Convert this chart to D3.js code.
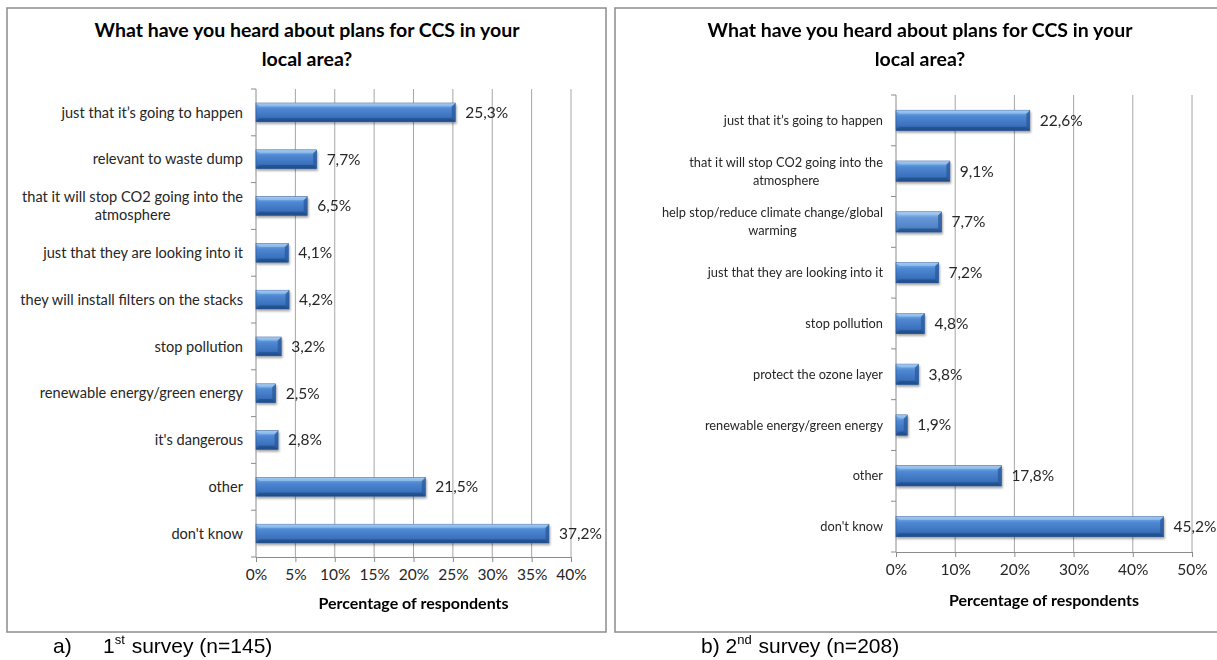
<!DOCTYPE html>
<html>
<head>
<meta charset="utf-8">
<script src="https://cdn.jsdelivr.net/npm/d3@7"></script>
<style>
  html, body { margin: 0; padding: 0; background: #fff; }
  svg { display: block; }
  text { font-family: Lato, "Open Sans", sans-serif; fill: #262626; }
</style>
</head>
<body>
<svg id="chart" width="1217" height="660"></svg>
<script>
// ---------- DATA ----------
const titleLines = ["What have you heard about plans for CCS in your", "local area?"];
const axisTitle = "Percentage of respondents";

const survey1Categories = [
  "just that it\u2019s going to happen",
  "relevant to waste dump",
  "that it will stop CO2 going into the atmosphere",
  "just that they are looking into it",
  "they will install filters on the stacks",
  "stop pollution",
  "renewable energy/green energy",
  "it's dangerous",
  "other",
  "don't know"
];
const survey1Values = [25.3, 7.7, 6.5, 4.1, 4.2, 3.2, 2.5, 2.8, 21.5, 37.2];
const survey1Ticks = [0, 5, 10, 15, 20, 25, 30, 35, 40];

const survey2Categories = [
  "just that it\u2019s going to happen",
  "that it will stop CO2 going into the atmosphere",
  "help stop/reduce climate change/global warming",
  "just that they are looking into it",
  "stop pollution",
  "protect the ozone layer",
  "renewable energy/green energy",
  "other",
  "don't know"
];
const survey2Values = [22.6, 9.1, 7.7, 7.2, 4.8, 3.8, 1.9, 17.8, 45.2];
const survey2Ticks = [0, 10, 20, 30, 40, 50];

const captionA = { prefix: "a)", num: "1", sup: "st", rest: " survey (n=145)" };
const captionB = { prefix: "b) ", num: "2", sup: "nd", rest: " survey (n=208)" };

// ---------- DRAW ----------
const svg = d3.select("#chart");
const defs = svg.append("defs");

function makeGrad(id, stops) {
  const g = defs.append("linearGradient").attr("id", id)
    .attr("x1", 0).attr("y1", 0).attr("x2", 0).attr("y2", 1);
  stops.forEach(s => g.append("stop").attr("offset", s[0]).attr("stop-color", s[1]));
}
makeGrad("barGrad", [[0, "#a3c8f1"], [0.14, "#6ca2e1"], [0.3, "#4f88d2"], [0.75, "#3b71bd"], [1, "#24528f"]]);
makeGrad("barGradLight", [[0, "#abcdf1"], [0.14, "#82b0e5"], [0.3, "#6797d8"], [0.75, "#5384c8"], [1, "#36649f"]]);
const shadow = defs.append("filter").attr("id", "shadow").attr("x", "-10%").attr("y", "-30%").attr("width", "130%").attr("height", "180%");
shadow.append("feGaussianBlur").attr("in", "SourceAlpha").attr("stdDeviation", 1.2);
shadow.append("feOffset").attr("dx", 1).attr("dy", 1.5).attr("result", "ob");
shadow.append("feComponentTransfer").append("feFuncA").attr("type", "linear").attr("slope", 0.35);
const fm = shadow.append("feMerge");
fm.append("feMergeNode");
fm.append("feMergeNode").attr("in", "SourceGraphic");

function wrapLabel(textSel, str, maxW) {
  const words = str.split(" ");
  const lines = [];
  let line = [];
  const tmp = textSel.append("tspan");
  words.forEach(w => {
    const trial = line.concat([w]).join(" ");
    tmp.text(trial);
    if (tmp.node().getComputedTextLength() > maxW && line.length) {
      lines.push(line.join(" "));
      line = [w];
    } else line.push(w);
  });
  lines.push(line.join(" "));
  tmp.remove();
  return lines;
}

function drawPanel(cfg) {
  const g = svg.append("g");
  // frame
  g.append("rect").attr("x", cfg.frame[0]).attr("y", cfg.frame[1])
    .attr("width", cfg.frame[2]).attr("height", cfg.frame[3])
    .attr("fill", "none").attr("stroke", "#8c8c8c").attr("stroke-width", 1.5);

  // title
  const tt = g.append("text").attr("text-anchor", "middle")
    .style("font-weight", "bold").style("font-size", cfg.titleSize + "px").style("fill", "#000");
  titleLines.forEach((l, i) => tt.append("tspan").attr("x", cfg.titleX).attr("y", cfg.titleY + i * 29).text(l));

  const x = d3.scaleLinear().domain([cfg.ticks[0], cfg.ticks[cfg.ticks.length - 1]]).range([cfg.x0, cfg.x1]);
  const y = d3.scaleBand().domain(cfg.categories).range([cfg.y0, cfg.y1])
    .paddingInner(0.6).paddingOuter(0.3);

  // gridlines
  g.append("g").selectAll("line").data(cfg.ticks.slice(1)).join("line")
    .attr("x1", d => x(d)).attr("x2", d => x(d))
    .attr("y1", cfg.y0).attr("y2", cfg.y1)
    .attr("stroke", "#a6a6a6").attr("stroke-width", 1);

  // x axis
  const xAxis = d3.axisBottom(x).tickValues(cfg.ticks).tickSize(5).tickPadding(7)
    .tickFormat(d => d + "%");
  const xg = g.append("g").attr("transform", `translate(0,${cfg.y1})`).call(xAxis);
  xg.select(".domain").attr("stroke", "#8c8c8c");
  xg.selectAll(".tick line").attr("stroke", "#8c8c8c");
  xg.selectAll(".tick text").style("font-family", "Lato, sans-serif")
    .style("font-size", cfg.tickSize + "px").style("fill", "#262626");

  // y axis line and category separators
  g.append("line").attr("x1", cfg.x0).attr("x2", cfg.x0).attr("y1", cfg.y0).attr("y2", cfg.y1)
    .attr("stroke", "#8c8c8c");
  const step = y.step();
  const seps = d3.range(cfg.categories.length + 1).map(i => cfg.y0 + i * step);
  g.append("g").selectAll("line").data(seps).join("line")
    .attr("x1", cfg.x0 - 5).attr("x2", cfg.x0).attr("y1", d => d).attr("y2", d => d)
    .attr("stroke", "#8c8c8c");

  // category labels
  cfg.categories.forEach(c => {
    const t = g.append("text").style("font-size", cfg.catSize + "px").style("fill", "#262626");
    const lines = wrapLabel(t, c, cfg.wrapW);
    const cy = y(c) + y.bandwidth() / 2;
    const lh = 18;
    if (lines.length === 1) {
      t.attr("text-anchor", "end")
        .append("tspan").attr("x", cfg.labelRight).attr("y", cy).attr("dy", "0.35em").text(lines[0]);
    } else {
      const widths = lines.map(l => { const s = t.append("tspan").text(l); const w = s.node().getComputedTextLength(); s.remove(); return w; });
      const maxW = d3.max(widths);
      const cx = cfg.labelRight - maxW / 2;
      t.attr("text-anchor", "middle");
      lines.forEach((l, i) => t.append("tspan").attr("x", cx)
        .attr("y", cy + (i - (lines.length - 1) / 2) * lh).attr("dy", "0.35em").text(l));
    }
  });

  // bars
  const bars = g.append("g").attr("filter", "url(#shadow)");
  const data = cfg.categories.map((c, i) => ({ c, v: cfg.values[i] }));
  const bg = bars.selectAll("g").data(data).join("g");
  bg.append("rect")
    .attr("x", x(0)).attr("y", d => y(d.c))
    .attr("width", d => x(d.v) - x(0)).attr("height", y.bandwidth())
    .attr("fill", d => cfg.lighter.includes(d.c) ? "url(#barGradLight)" : "url(#barGrad)")
    .attr("stroke", "#2b5794").attr("stroke-width", 0.6);
  const bev = 3.5;
  bg.append("path")
    .attr("d", d => {
      const xr = x(d.v), yt = y(d.c), yb = yt + y.bandwidth();
      return `M${xr},${yt} L${xr - bev},${yt + bev} L${xr - bev},${yb - bev} L${xr},${yb} Z`;
    }).attr("fill", "#2a5a9b").attr("opacity", 0.75);
  bg.append("path")
    .attr("d", d => {
      const xl = x(0), xr = x(d.v), yt = y(d.c);
      return `M${xl},${yt} L${xr},${yt} L${xr - bev},${yt + bev} L${xl + bev},${yt + bev} Z`;
    }).attr("fill", "#a8cdf3").attr("opacity", 0.55);
  bg.append("path")
    .attr("d", d => {
      const xl = x(0), xr = x(d.v), yb = y(d.c) + y.bandwidth();
      return `M${xl},${yb} L${xr},${yb} L${xr - bev},${yb - bev} L${xl + bev},${yb - bev} Z`;
    }).attr("fill", "#1d4a86").attr("opacity", 0.6);

  // value labels
  g.append("g").selectAll("text").data(data).join("text")
    .attr("x", d => x(d.v) + 10).attr("y", d => y(d.c) + y.bandwidth() / 2).attr("dy", "0.35em")
    .style("font-size", cfg.valSize + "px").style("fill", "#262626")
    .text(d => d3.format(".1f")(d.v).replace(".", ",") + "%");

  // axis title
  g.append("text").attr("x", (cfg.x0 + cfg.x1) / 2).attr("y", cfg.axisTitleY)
    .attr("text-anchor", "middle").style("font-weight", "bold")
    .style("font-size", cfg.axisTitleSize + "px").style("fill", "#000").text(axisTitle);

  // caption
  const cap = g.append("text").attr("y", 653)
    .style("font-family", "'Liberation Sans', Arial, sans-serif").style("font-size", "21px").style("fill", "#000");
  cap.append("tspan").attr("x", cfg.capX).text(cfg.caption.prefix);
  const num = cap.append("tspan").text(cfg.caption.num);
  if (cfg.numX != null) num.attr("x", cfg.numX);
  cap.append("tspan").attr("dy", -9).style("font-size", "13px").text(cfg.caption.sup);
  cap.append("tspan").attr("dy", 9).attr("dx", 1).text(cfg.caption.rest);
}

drawPanel({
  frame: [7, 8, 599, 624],
  titleX: 307, titleY: 37, titleSize: 19.5,
  categories: survey1Categories, values: survey1Values, ticks: survey1Ticks, lighter: [],
  x0: 256, x1: 571, y0: 89, y1: 557,
  labelRight: 243, wrapW: 230, catSize: 14.6, tickSize: 15.5, valSize: 15.5,
  axisTitleY: 609, axisTitleSize: 16,
  caption: captionA, capX: 53, numX: 103
});

drawPanel({
  frame: [615, 8, 640, 624],
  titleX: 920, titleY: 37, titleSize: 19.5,
  categories: survey2Categories, values: survey2Values, ticks: survey2Ticks,
  lighter: ["help stop/reduce climate change/global warming"],
  x0: 896, x1: 1192, y0: 95, y1: 552,
  labelRight: 883, wrapW: 235, catSize: 12.8, tickSize: 15.5, valSize: 15.5,
  axisTitleY: 606, axisTitleSize: 16,
  caption: captionB, capX: 701, numX: null
});
</script>
</body>
</html>
